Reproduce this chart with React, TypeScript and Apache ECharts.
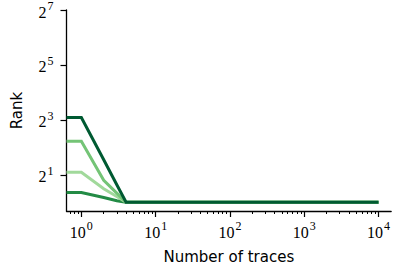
import React, { useEffect, useRef } from "react";
import * as echarts from "echarts";

// Data
const xValues = [0.631, 1, 2, 3, 4, 5, 10, 100, 1000, 10000];
const seriesBottom = [1.28, 1.28, 1.13, 1.04, 1, 1, 1, 1, 1, 1];
const seriesLight = [2.13, 2.13, 1.41, 1.16, 1, 1, 1, 1, 1, 1];
const seriesMedium = [4.66, 4.66, 1.74, 1.26, 1, 1, 1, 1, 1, 1];
const seriesDark = [8.5, 8.5, 2.93, 1.56, 1, 1, 1, 1, 1, 1];

const xMajorTicks = [1, 10, 100, 1000, 10000];
const xMinorTicks = [
  0.7, 0.8, 0.9,
  2, 3, 4, 5, 6, 7, 8, 9,
  20, 30, 40, 50, 60, 70, 80, 90,
  200, 300, 400, 500, 600, 700, 800, 900,
  2000, 3000, 4000, 5000, 6000, 7000, 8000, 9000,
];
const yTicks = [2, 8, 32, 128];

const colors = {
  bottom: "#238b45",
  light: "#a1d99b",
  medium: "#74c476",
  dark: "#005a32",
};

const X_MIN = 0.631;
const X_MAX = 14800;
const Y_MIN = 0.803;
const Y_MAX = 128;

export default function App() {
  const ref = useRef<HTMLDivElement>(null);
  useEffect(() => {
    if (!ref.current) return;
    const chart = echarts.init(ref.current, undefined, { renderer: "svg" });
    const mk = (vals: number[], color: string, name: string) => ({
      type: "line",
      name,
      data: xValues.map((x, i) => [x, vals[i]]),
      showSymbol: false,
      symbol: "none",
      lineStyle: { color, width: 3, cap: "butt", join: "miter" },
      clip: true,
      xAxisIndex: 0,
      yAxisIndex: 0,
    });
    const serif = "Liberation Serif";
    const sans = "DejaVu Sans";
    chart.setOption({
      animation: false,
      backgroundColor: "#ffffff",
      grid: { left: 66.5, right: 1, top: 10, bottom: 61, containLabel: false },
      xAxis: [
        {
          type: "log",
          logBase: 10,
          min: X_MIN,
          max: X_MAX,
          position: "bottom",
          name: "Number of traces",
          nameLocation: "middle",
          nameGap: 38,
          nameTextStyle: { fontFamily: sans, fontSize: 15, color: "#000" },
          axisLine: { show: true, lineStyle: { color: "#000", width: 1.3 } },
          axisTick: {
            show: true,
            length: 6,
            inside: false,
            customValues: xMajorTicks,
            lineStyle: { color: "#000", width: 1.2 },
          },
          minorTick: { show: false },
          splitLine: { show: false },
          axisLabel: {
            customValues: xMajorTicks,
            margin: 9,
            formatter: (v: number) => `{b|10}{s|${Math.round(Math.log10(v))}}`,
            rich: {
              b: { fontFamily: serif, fontSize: 16, lineHeight: 20, color: "#000", verticalAlign: "bottom" },
              s: { fontFamily: serif, fontSize: 12, lineHeight: 12, color: "#000", verticalAlign: "top", padding: [0, 0, 0, 1] },
            },
          },
        },
        {
          type: "log",
          logBase: 10,
          min: X_MIN,
          max: X_MAX,
          position: "bottom",
          axisLine: { show: false },
          axisTick: {
            show: true,
            length: 3,
            inside: false,
            customValues: xMinorTicks,
            lineStyle: { color: "#000", width: 1 },
          },
          splitLine: { show: false },
          axisLabel: { show: false },
        },
      ],
      yAxis: {
        type: "log",
        logBase: 2,
        min: Y_MIN,
        max: Y_MAX,
        name: "Rank",
        nameLocation: "middle",
        nameGap: 42,
        nameRotate: 90,
        nameTextStyle: { fontFamily: sans, fontSize: 15, color: "#000" },
        axisLine: { show: true, lineStyle: { color: "#000", width: 1.3 } },
        axisTick: {
          show: true,
          length: 6,
          customValues: yTicks,
          lineStyle: { color: "#000", width: 1.2 },
        },
        splitLine: { show: false },
        axisLabel: {
          customValues: yTicks,
          margin: 13,
          formatter: (v: number) => `{b|2}{s|${Math.round(Math.log2(v))}}`,
          rich: {
            b: { fontFamily: serif, fontSize: 16, lineHeight: 20, color: "#000", verticalAlign: "bottom" },
            s: { fontFamily: serif, fontSize: 12, lineHeight: 12, color: "#000", verticalAlign: "top", padding: [0, 0, 0, 1] },
          },
        },
      },
      series: [
        mk(seriesBottom, colors.bottom, "bottom"),
        mk(seriesLight, colors.light, "light"),
        mk(seriesMedium, colors.medium, "medium"),
        mk(seriesDark, colors.dark, "dark"),
      ],
    });
    return () => chart.dispose();
  }, []);
  return (
    <div
      ref={ref}
      style={{ position: "absolute", left: 0, top: 0, width: 393, height: 272 }}
    />
  );
}
